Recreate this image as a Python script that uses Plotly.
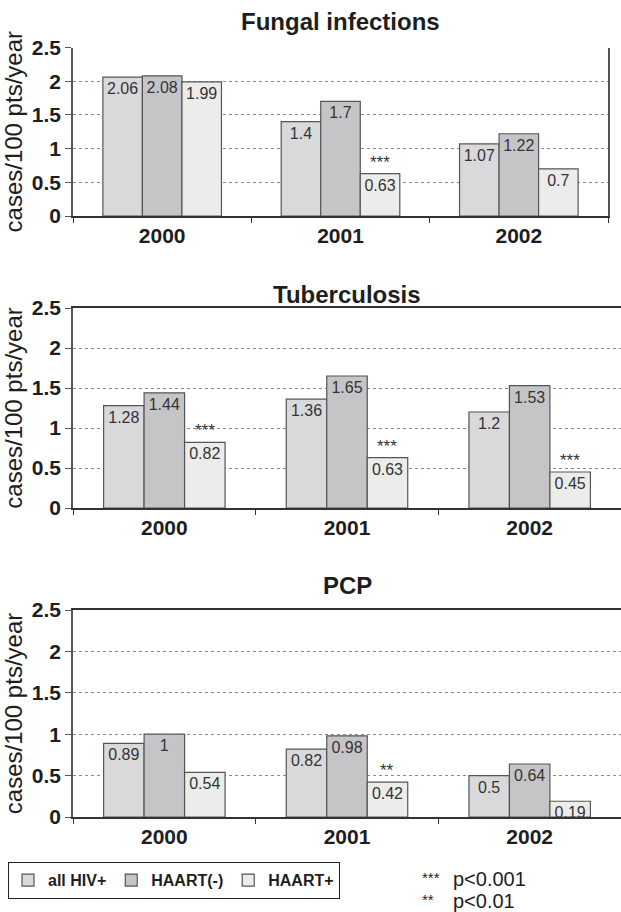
import plotly.graph_objects as go
from plotly.subplots import make_subplots

years = ["2000", "2001", "2002"]
series_names = ["all HIV+", "HAART(-)", "HAART+"]
panel_titles = ["Fungal infections", "Tuberculosis", "PCP"]

fungal_all = [2.06, 1.4, 1.07]
fungal_neg = [2.08, 1.7, 1.22]
fungal_pos = [1.99, 0.63, 0.7]
fungal_sig = ["", "***", ""]

tb_all = [1.28, 1.36, 1.2]
tb_neg = [1.44, 1.65, 1.53]
tb_pos = [0.82, 0.63, 0.45]
tb_sig = ["***", "***", "***"]

pcp_all = [0.89, 0.82, 0.5]
pcp_neg = [1, 0.98, 0.64]
pcp_pos = [0.54, 0.42, 0.19]
pcp_sig = ["", "**", ""]

y_ticks = [0, 0.5, 1, 1.5, 2, 2.5]
y_tick_text = ["0", "0.5", "1", "1.5", "2", "2.5"]

footnotes = [("***", "p<0.001"), ("**", "p<0.01")]

panels = [
    (fungal_all, fungal_neg, fungal_pos, fungal_sig),
    (tb_all, tb_neg, tb_pos, tb_sig),
    (pcp_all, pcp_neg, pcp_pos, pcp_sig),
]

colors = ["#d9d9db", "#c5c5c7", "#ececea"]
FONT = "Liberation Sans, Arial, sans-serif"
TXT = "#1e1e1e"
W, H = 621, 912
L, R, B = 73, 0, 50
HP = H - B          # paper height in px
PW = W - L - R      # paper width in px
bargap = 0.335

def py(ypix):
    return (HP - ypix) / HP

def px(xpix):
    return (xpix - L) / PW

# panel pixel extents (top, bottom, right)
pix = [(47.5, 216, 608), (308, 508, 621), (610, 817, 621)]
title_y = [21, 294, 585]

fig = make_subplots(rows=3, cols=1)

for r, (a, n, p, sig) in enumerate(panels, start=1):
    for k, vals in enumerate([a, n, p]):
        fig.add_trace(go.Bar(
            x=years, y=vals, name=f"<b>{series_names[k]}</b>",
            marker=dict(color=colors[k], line=dict(color="#555555", width=1.2)),
            text=[str(v) for v in vals], textposition="inside",
            insidetextanchor="end", constraintext="none",
            textfont=dict(family=FONT, size=16, color="#333333"),
            showlegend=(r == 1), legendgroup=series_names[k],
        ), row=r, col=1)
    w = (1 - bargap) / 3
    for i, s in enumerate(sig):
        if s:
            fig.add_annotation(
                x=i + w, y=p[i], xref=f"x{r if r > 1 else ''}", yref=f"y{r if r > 1 else ''}",
                text=s, showarrow=False, yanchor="bottom", yshift=0,
                font=dict(family=FONT, size=17, color="#333333"))

for r in range(1, 4):
    top, bot, right = pix[r - 1]
    xa = "xaxis" if r == 1 else f"xaxis{r}"
    ya = "yaxis" if r == 1 else f"yaxis{r}"
    fig.layout[ya].update(
        domain=[py(bot), py(top)], range=[0, 2.5], tickvals=y_ticks,
        ticktext=[f"<b>{t}</b>" for t in y_tick_text],
        tickfont=dict(family=FONT, size=21, color=TXT),
        showgrid=True, gridcolor="#8a8a8a", griddash="3px,3px", gridwidth=1,
        showline=True, linecolor="#555555", linewidth=1.5, mirror=(r == 1),
        ticks="outside", ticklen=6, tickcolor="#555555",
        zeroline=False, automargin=False,
        title=dict(text="cases/100 pts/year", standoff=6,
                   font=dict(family=FONT, size=24, color=TXT)),
    )
    fig.layout[xa].update(
        domain=[0, px(right)],
        type="category", showline=True, linecolor="#333333", linewidth=1.5,
        ticks="outside", tickson="boundaries", ticklen=5, tickcolor="#333333",
        tickfont=dict(family=FONT, size=21, color=TXT),
        tickprefix="<b>", ticksuffix="</b>",
        mirror=(r > 1), automargin=False,
    )
    fig.add_annotation(
        x=(px(L) + px(right)) / 2, y=py(title_y[r - 1]), xref="paper", yref="paper",
        text=f"<b>{panel_titles[r - 1]}</b>", showarrow=False, yanchor="middle",
        font=dict(family=FONT, size=24, color=TXT))

for j, (stars, label) in enumerate(footnotes):
    yp = py(879 + 22 * j)
    fig.add_annotation(x=px(420), y=yp, xref="paper", yref="paper", text=stars,
                       showarrow=False, xanchor="left", yanchor="middle", yshift=2,
                       font=dict(family=FONT, size=15, color=TXT))
    fig.add_annotation(x=px(451), y=yp, xref="paper", yref="paper", text=label,
                       showarrow=False, xanchor="left", yanchor="middle",
                       font=dict(family=FONT, size=20, color=TXT))

fig.update_layout(
    width=W, height=H, margin=dict(l=L, r=R, t=0, b=B, autoexpand=False),
    paper_bgcolor="white", plot_bgcolor="white",
    barmode="group", bargap=bargap, bargroupgap=0,
    font=dict(family=FONT, color=TXT),
    legend=dict(orientation="h", x=px(8), y=0, xanchor="left", yanchor="top",
                bordercolor="#222222", borderwidth=1.2,
                font=dict(family=FONT, size=16, color=TXT),
                itemwidth=30, tracegroupgap=0),
)

fig.write_html("out.html", config={"displayModeBar": False},
               post_script="document.body.style.margin='0px';")
